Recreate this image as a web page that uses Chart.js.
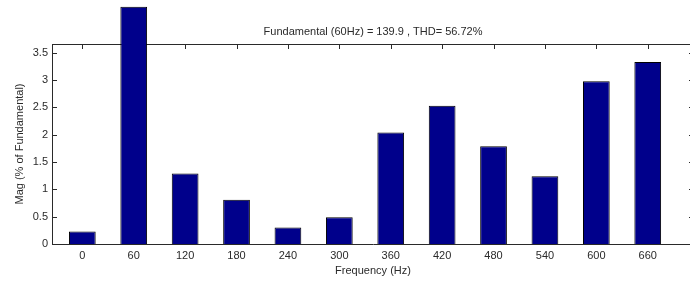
<!DOCTYPE html>
<html>
<head>
<meta charset="utf-8">
<script src="https://cdn.jsdelivr.net/npm/chart.js@4"></script>
<style>
body{margin:0;background:#fff;overflow:hidden;}
#wrap{width:700px;height:281px;}
</style>
</head>
<body>
<div id="wrap"><canvas id="thd" width="700" height="281"></canvas></div>
<script>
// Harmonic spectrum
let freqs=[0,60,120,180,240,300,360,420,480,540,600,660];
let mags=[0.23,4.34,1.29,0.81,0.30,0.49,2.04,2.53,1.79,1.24,2.98,3.33];
let yTicks=[0,0.5,1,1.5,2,2.5,3,3.5];
let titleText="Fundamental (60Hz) = 139.9 , THD= 56.72%";

let font={family:"'Liberation Sans', Arial, sans-serif",size:11};
let ink="#2a2a2a";

// MATLAB style box with inward ticks
let frame={
  id:"frame",
  beforeDatasetsDraw(chart){
    let c=chart.ctx, a=chart.chartArea, x=chart.scales.x, y=chart.scales.y;
    c.save();
    c.strokeStyle=ink; c.lineWidth=1;
    c.beginPath();
    c.moveTo(a.left,Math.round(a.top)+0.5); c.lineTo(a.right,Math.round(a.top)+0.5);
    c.moveTo(Math.round(a.right)-0.5,a.top); c.lineTo(Math.round(a.right)-0.5,a.bottom);
    freqs.forEach(f=>{let px=Math.round(x.getPixelForValue(f))+0.5; c.moveTo(px,a.top); c.lineTo(px,a.top+5); c.moveTo(px,a.bottom); c.lineTo(px,a.bottom-5);});
    yTicks.forEach(v=>{let py=Math.round(y.getPixelForValue(v))+0.5; c.moveTo(a.left,py); c.lineTo(a.left+5,py); c.moveTo(a.right,py); c.lineTo(a.right-5,py);});
    c.stroke();
    c.fillStyle=ink; c.font=font.size+"px "+font.family; c.textAlign="center"; c.textBaseline="middle";
    c.fillText(titleText,(a.left+a.right)/2,32);
    c.restore();
  }
};

let ctx=document.getElementById("thd").getContext("2d");
let chart=new Chart(ctx,{
  type:"bar",
  data:{datasets:[{data:freqs.map((f,i)=>({x:f,y:mags[i]})),backgroundColor:"#00008b",borderColor:"#000",borderWidth:1,categoryPercentage:1,barPercentage:0.52,clip:false}]},
  options:{
    responsive:false,animation:false,
    layout:{padding:{top:44,right:6,left:0,bottom:0}},
    plugins:{legend:{display:false},tooltip:{enabled:false}},
    scales:{
      x:{type:"linear",min:-35.4,max:714,offset:false,
        grid:{display:false,drawTicks:false},border:{display:true,color:ink},
        ticks:{stepSize:60,includeBounds:false,autoSkip:false,maxRotation:0,padding:5,color:ink,font:font},
        title:{display:true,text:"Frequency (Hz)",color:ink,font:font,padding:{top:0,bottom:3}},
        afterFit(s){s.height=37;}},
      y:{min:0,max:3.66,
        grid:{display:false,drawTicks:false},border:{display:true,color:ink},
        ticks:{stepSize:0.5,includeBounds:false,padding:4,color:ink,font:font,callback:v=>String(v)},
        title:{display:true,text:"Mag (% of Fundamental)",color:ink,font:font,padding:{top:13,bottom:0}},
        afterFit(s){s.width=52;}}
    }
  },
  plugins:[frame]
});
</script>
</body>
</html>
